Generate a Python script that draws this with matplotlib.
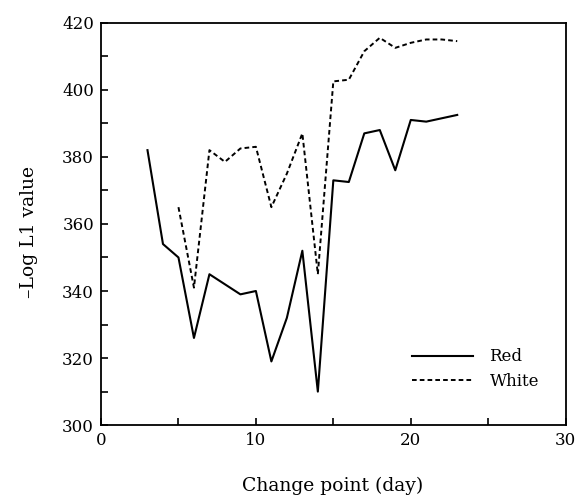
import numpy as np
import matplotlib
matplotlib.use('Agg')
import matplotlib.pyplot as plt
from matplotlib.ticker import MultipleLocator

plt.rcParams['font.family'] = ['DejaVu Serif']

red_days = list(range(3, 24))
red_vals = [382, 354, 350, 326, 345, 342, 339, 340, 319, 332, 352, 310,
            373, 372.5, 387, 388, 376, 391, 390.5, 391.5, 392.5]

white_days = list(range(5, 24))
white_vals = [365, 341, 382, 378.5, 382.5, 383, 365, 375, 387, 345,
              402.5, 403, 411.5, 415.5, 412.5, 414, 415, 415, 414.5]

fig = plt.figure(figsize=(5.75, 4.99), dpi=100)
ax = fig.add_axes([0.1757, 0.148, 0.808, 0.8065])

ax.plot(red_days, red_vals, color='black', lw=1.5, ls='-', label='Red')
ax.plot(white_days, white_vals, color='black', lw=1.4, ls=(0, (2.4, 1.6)), label='White')

ax.set_xlim(0, 30)
ax.set_ylim(300, 420)
ax.xaxis.set_major_locator(MultipleLocator(10))
ax.xaxis.set_minor_locator(MultipleLocator(5))
ax.yaxis.set_major_locator(MultipleLocator(20))
ax.yaxis.set_minor_locator(MultipleLocator(10))
ax.tick_params(which='both', direction='in', length=5, width=1.2, labelsize=12,
               top=False, right=False)
ax.tick_params(axis='x', pad=5)
ax.tick_params(axis='y', pad=5)
for s in ax.spines.values():
    s.set_linewidth(1.3)

ax.set_xlabel('Change point (day)', fontsize=13.5)
ax.set_ylabel('\u2013Log L1 value', fontsize=13.5)
ax.xaxis.set_label_coords(0.499, -0.128)
ax.yaxis.set_label_coords(-0.135, 0.481)

ax.legend(loc='upper left', frameon=False, fontsize=12, handlelength=3.65,
          handletextpad=1.0, bbox_to_anchor=(0.637, 0.228), labelspacing=0.45,
          borderpad=0.4)

fig.savefig('out.png', dpi=100)
